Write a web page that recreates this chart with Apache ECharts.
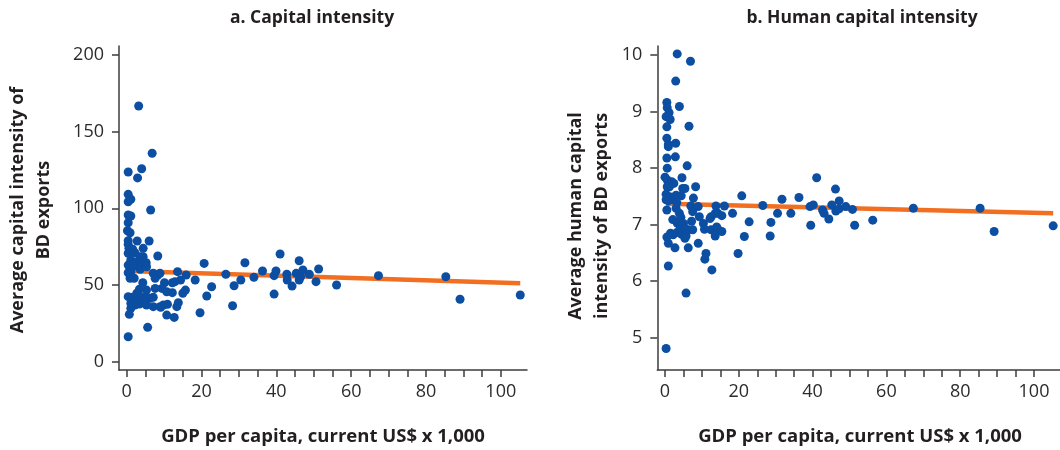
<!DOCTYPE html>
<html>
<head>
<meta charset="utf-8">
<script src="https://cdn.jsdelivr.net/npm/echarts@6/dist/echarts.min.js"></script>
<style>
  html, body { margin: 0; padding: 0; background: #fff; }
  #chart { width: 1060px; height: 450px; }
</style>
</head>
<body>
<div id="chart"></div>
<script>
// Panel a: GDP per capita (US$ x 1,000) and average capital intensity of BD exports
const gdpA = [3.2, 6.8, 4.0, 0.4, 2.9, 0.4, 1.1, 0.4, 6.4, 0.4, 1.1, 0.4, 0.2, 0.9, 0.4, 2.8, 6.0, 0.4, 0.6, 1.6,
  4.4, 0.4, 2.2, 8.3, 3.6, 4.4, 1.1, 2.7, 4.0, 5.2, 0.4, 1.6, 20.7, 3.6, 5.3, 0.4, 1.1, 7.1, 8.3, 8.9,
  13.6, 0.9, 2.0, 7.6, 15.9, 18.3, 14.4, 12.9, 12.2, 10.1, 22.7, 4.3, 9.4, 7.6, 3.4, 5.3, 2.7, 15.7, 15.0, 10.7,
  12.2, 21.4, 0.4, 1.6, 2.2, 4.0, 5.3, 6.2, 7.1, 1.1, 2.2, 4.4, 5.3, 7.1, 8.9, 9.8, 13.8, 13.4, 9.1, 1.1,
  3.4, 10.9, 19.6, 0.7, 10.7, 12.7, 5.6, 0.4, 26.5, 28.7, 28.3, 30.5, 31.6, 34.0, 36.3, 39.4, 39.9, 41.0, 39.4, 42.8,
  42.9, 44.2, 45.3, 46.1, 46.5, 46.1, 47.1, 48.8, 50.6, 51.3, 56.1, 67.3, 85.3, 89.1, 105.2];
const capA = [166.7, 135.9, 125.8, 123.7, 119.8, 109.1, 105.9, 104.3, 98.9, 95.6, 95.0, 90.6, 85.4, 84.1, 78.9, 78.7, 78.7, 76.5, 73.9, 73.3,
  73.9, 70.7, 71.1, 68.9, 68.4, 68.4, 66.3, 65.2, 64.1, 64.5, 63.0, 61.9, 64.1, 60.2, 61.9, 58.0, 58.7, 57.6, 56.5, 57.6,
  58.7, 54.4, 54.4, 54.4, 56.5, 53.3, 53.3, 52.2, 51.5, 51.5, 48.9, 51.5, 47.8, 47.8, 47.2, 46.7, 44.6, 46.7, 44.6, 45.6,
  45.0, 42.8, 42.4, 42.0, 40.7, 42.0, 41.3, 41.3, 42.0, 38.1, 37.0, 39.1, 37.0, 35.9, 35.9, 37.0, 38.5, 35.9, 35.5, 34.8,
  37.6, 37.4, 31.9, 30.9, 30.4, 28.9, 22.4, 16.3, 57.0, 49.5, 36.5, 53.3, 64.5, 55.0, 59.1, 56.1, 59.1, 70.2, 44.1, 57.0,
  53.3, 49.3, 57.6, 65.8, 55.4, 53.3, 59.8, 57.0, 52.2, 60.4, 50.0, 56.1, 55.4, 40.7, 43.5];
const fitA = [[0.2, 59.2], [105.2, 51.1]];

// Panel b: GDP per capita (US$ x 1,000) and average human capital intensity of BD exports
const gdpB = [3.3, 6.9, 2.9, 0.5, 0.6, 3.9, 1.1, 0.3, 1.4, 0.5, 6.5, 0.5, 0.9, 0.9, 2.9, 0.5, 2.8, 6.0, 0.6, 0.0,
  0.6, 1.8, 2.4, 4.6, 8.3, 1.2, 4.8, 5.4, 7.7, 7.0, 9.0, 13.8, 16.1, 20.8, 18.3, 0.3, 0.3, 0.5, 1.5, 2.2,
  4.4, 12.5, 14.3, 15.4, 3.0, 0.9, 3.2, 22.8, 21.5, 19.8, 12.7, 10.8, 11.1, 9.0, 6.3, 2.7, 0.9, 0.5, 1.5, 2.2,
  3.2, 4.1, 4.5, 5.4, 5.7, 2.1, 3.3, 4.1, 5.0, 5.4, 6.3, 7.5, 3.0, 3.9, 4.3, 7.5, 7.2, 9.3, 10.4, 10.7,
  12.2, 12.5, 13.6, 14.0, 14.4, 15.4, 13.6, 0.9, 5.7, 0.3, 0.6, 26.5, 28.7, 28.5, 30.5, 31.7, 34.1, 36.3, 39.3, 40.2,
  39.5, 41.1, 42.7, 43.1, 44.4, 45.2, 46.2, 46.3, 47.2, 47.2, 49.0, 50.8, 51.4, 56.3, 67.3, 85.4, 89.2, 105.2];
const humB = [10.02, 9.89, 9.54, 9.16, 9.07, 9.09, 8.98, 8.91, 8.86, 8.73, 8.74, 8.53, 8.42, 8.38, 8.44, 8.18, 8.20, 8.04, 8.00, 7.84,
  7.79, 7.76, 7.73, 7.83, 7.67, 7.67, 7.64, 7.64, 7.47, 7.33, 7.32, 7.33, 7.33, 7.51, 7.20, 7.54, 7.44, 7.26, 7.49, 7.44,
  7.51, 7.14, 7.20, 7.16, 7.52, 7.42, 7.39, 7.05, 6.79, 6.49, 6.20, 6.39, 6.49, 6.67, 6.59, 6.59, 6.67, 6.78, 6.85, 6.82,
  6.86, 6.91, 6.83, 6.76, 6.80, 7.09, 7.03, 6.96, 7.02, 6.93, 6.91, 6.91, 7.29, 7.20, 7.13, 7.23, 7.06, 7.14, 7.02, 6.92,
  7.11, 6.91, 7.20, 6.96, 6.91, 6.88, 6.80, 6.27, 5.79, 4.81, 7.67, 7.34, 7.04, 6.80, 7.20, 7.45, 7.20, 7.48, 7.32, 7.35,
  6.99, 7.83, 7.26, 7.20, 7.10, 7.35, 7.63, 7.24, 7.28, 7.42, 7.32, 7.27, 6.99, 7.08, 7.29, 7.29, 6.88, 6.98];
const fitB = [[0.3, 7.37], [105.2, 7.20]];

// Tick positions and labels
const xTicks = [0, 5, 10, 15, 20, 25, 30, 35, 40, 45, 50, 55, 60, 65, 70, 75, 80, 85, 90, 95, 100];
const xLabels = [0, 20, 40, 60, 80, 100];
const yTicksA = [0, 50, 100, 150, 200];
const yTicksB = [5, 6, 7, 8, 9, 10];

const titleA = 'a. Capital intensity';
const titleB = 'b. Human capital intensity';
const xTitle = 'GDP per capita, current US$ x 1,000';
const yTitleA = 'Average capital intensity of\nBD exports';
const yTitleB = 'Average human capital\nintensity of BD exports';

const FONT = '"Open Sans", "Noto Sans", sans-serif';
const DOT = '#0b4ea2';
const FIT = '#f26f21';
const AXIS = '#3c3c3c';

const zip = (xs, ys) => xs.map((x, i) => [x, ys[i]]);

function xAxisCfg(gridIndex, min, max) {
  return {
    type: 'value', gridIndex, min, max,
    splitLine: { show: false },
    axisLine: { show: true, onZero: false, lineStyle: { color: AXIS, width: 1.5 } },
    axisTick: { show: true, length: 7, lineStyle: { color: AXIS, width: 1.5 }, customValues: xTicks },
    axisLabel: { color: '#2b2b2b', fontFamily: FONT, fontSize: 18, margin: 13, customValues: xLabels }
  };
}
function yAxisCfg(gridIndex, min, max, ticks) {
  return {
    type: 'value', gridIndex, min, max,
    splitLine: { show: false },
    axisLine: { show: true, onZero: false, lineStyle: { color: AXIS, width: 1.5 } },
    axisTick: { show: true, length: 7, lineStyle: { color: AXIS, width: 1.5 }, customValues: ticks },
    axisLabel: { color: '#2b2b2b', fontFamily: FONT, fontSize: 18, margin: 15, customValues: ticks }
  };
}
function textItem(text, x, y, size, rotation) {
  return {
    type: 'text', x, y, rotation: rotation || 0,
    style: {
      text, fill: '#231f20', font: 'bold ' + size + 'px ' + FONT,
      textAlign: 'center', textVerticalAlign: 'middle', lineHeight: 26
    }
  };
}

const chart = echarts.init(document.getElementById('chart'), null, { renderer: 'canvas' });
chart.setOption({
  animation: false,
  backgroundColor: '#ffffff',
  grid: [
    { left: 119, top: 46, width: 408, height: 324 },
    { left: 657.3, top: 46, width: 402.7, height: 324 }
  ],
  xAxis: [xAxisCfg(0, -2.06, 107.0), xAxisCfg(1, -2.09, 107.05)],
  yAxis: [yAxisCfg(0, -5.4, 205.8, yTicksA), yAxisCfg(1, 4.43, 10.16, yTicksB)],
  series: [
    { type: 'line', xAxisIndex: 0, yAxisIndex: 0, data: fitA, symbol: 'none', z: 2,
      lineStyle: { color: FIT, width: 4.5 } },
    { type: 'scatter', xAxisIndex: 0, yAxisIndex: 0, data: zip(gdpA, capA), symbolSize: 9, z: 3,
      itemStyle: { color: DOT, opacity: 1 } },
    { type: 'line', xAxisIndex: 1, yAxisIndex: 1, data: fitB, symbol: 'none', z: 2,
      lineStyle: { color: FIT, width: 4.5 } },
    { type: 'scatter', xAxisIndex: 1, yAxisIndex: 1, data: zip(gdpB, humB), symbolSize: 9, z: 3,
      itemStyle: { color: DOT, opacity: 1 } }
  ],
  graphic: [
    textItem(titleA, 312, 18, 17.5),
    textItem(titleB, 862, 18, 17.5),
    textItem(xTitle, 323, 437, 18.5),
    textItem(xTitle, 860, 437, 18.5),
    textItem(yTitleA, 31, 210, 18, Math.PI / 2),
    textItem(yTitleB, 589, 216, 18, Math.PI / 2)
  ]
});
</script>
</body>
</html>
